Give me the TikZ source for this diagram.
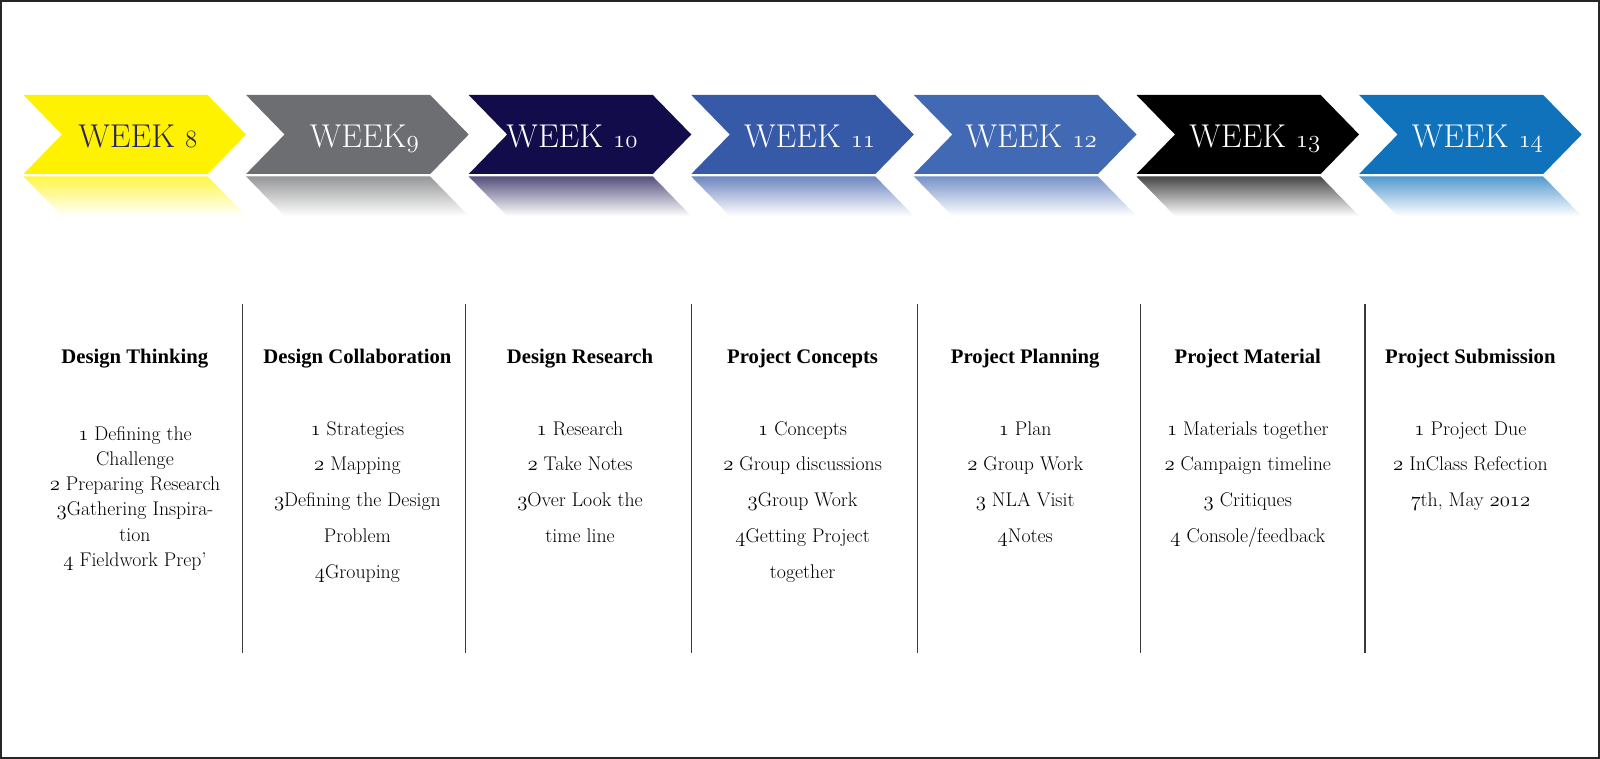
\documentclass[tikz,border=0pt]{standalone}
\usepackage{fontspec}
\newfontfamily\headfont{Liberation Serif}
\definecolor{cyel}{HTML}{FFF200}
\definecolor{cgray}{HTML}{6D6E71}
\definecolor{cnavy}{HTML}{120D4A}
\definecolor{cblueA}{HTML}{3659A8}
\definecolor{cblueB}{HTML}{4169B4}
\definecolor{cblk}{HTML}{000000}
\definecolor{cblueC}{HTML}{1172BC}
\definecolor{cnavytxt}{HTML}{26246B}
\definecolor{cline}{HTML}{3A3A3A}
\newcommand\os[1]{{\fontencoding{OML}\fontfamily{cmm}\fontseries{m}\fontshape{it}\selectfont #1}}
\tikzset{
  weektxt/.style={anchor=base, inner sep=0pt, font=\fontsize{33}{38}\selectfont},
  headtxt/.style={anchor=base, inner sep=0pt, font=\headfont\bfseries\fontsize{20.7}{24}\selectfont},
  bodytxt/.style={anchor=base, inner sep=0pt, font=\fontsize{19.8}{23}\selectfont},
  sepline/.style={draw=cline, line width=1.5pt},
  frameline/.style={draw=black!85, line width=1.6pt}
}
\begin{document}
\begin{tikzpicture}[x=1pt,y=-1pt]
\useasboundingbox (0,0) rectangle (1600,759);
\fill[white] (0,0) rectangle (1600,759);
\draw[frameline] (1,1) rectangle (1599,758);
% chevrons
\foreach \i/\col/\txtcol/\lab/\dx in {
  0/cyel/cnavytxt/{WEEK \os{8}}/3,
  1/cgray/white/{WEEK\os{9}}/7,
  2/cnavy/white/{WEEK \os{10}}/-8,
  3/cblueA/white/{WEEK \os{11}}/7,
  4/cblueB/white/{WEEK \os{12}}/6,
  5/cblk/white/{WEEK \os{13}}/7,
  6/cblueC/white/{WEEK \os{14}}/7}{
  \pgfmathsetmacro\xa{23.5+222.6*\i}
  \fill[\col] (\xa,95) -- ++(184.1,0) -- ++(38.5,39.5) -- ++(-38.5,39.5)
     -- ++(-184.1,0) -- ++(38.5,-39.5) -- cycle;
  \shade[top color=\col!72!white, bottom color=white] (\xa,176.5) -- ++(184.1,0)
     -- ++(38.5,39.5) -- ++(-184.1,0) -- cycle;
  \node[weektxt, text=\txtcol] (wk\i) at (\xa+111.3+\dx,147.5) {\lab};
}
% separators
\foreach \sx in {242.7,465.7,691.7,917.7,1140.3,1365}{
  \draw[sepline] (\sx,304) -- (\sx,653);
}
% headings
\foreach \i/\t in {0/Design Thinking,1/Design Collaboration,2/Design Research,
  3/Project Concepts,4/Project Planning,5/Project Material,6/Project Submission}{
  \node[headtxt] (hd\i) at (134.8+222.6*\i,363) {\t};
}
% column 1
\foreach \t [count=\k] in {\os{1} Defining the,Challenge,\os{2} Preparing Research,
  \os{3}Gathering Inspira-,tion,\os{4} Fieldwork Prep’}{
  \node[bodytxt] (ca\k) at (135,440+25.3*\k-25.3) {\t};
}
% column 2
\foreach \t [count=\k] in {\os{1} Strategies,\os{2} Mapping,\os{3}Defining the Design,
  Problem,\os{4}Grouping}{
  \node[bodytxt] (cb\k) at (357.4,435+35.8*\k-35.8) {\t};
}
% column 3
\foreach \t [count=\k] in {\os{1} Research,\os{2} Take Notes,\os{3}Over Look the,time line}{
  \node[bodytxt] (cc\k) at (580,435+35.8*\k-35.8) {\t};
}
% column 4
\foreach \t [count=\k] in {\os{1} Concepts,\os{2} Group discussions,\os{3}Group Work,
  \os{4}Getting Project,together}{
  \node[bodytxt] (cd\k) at (802.6,435+35.8*\k-35.8) {\t};
}
% column 5
\foreach \t [count=\k] in {\os{1} Plan,\os{2} Group Work,\os{3} NLA Visit,\os{4}Notes}{
  \node[bodytxt] (ce\k) at (1025.2,435+35.8*\k-35.8) {\t};
}
% column 6
\foreach \t [count=\k] in {\os{1} Materials together,\os{2} Campaign timeline,
  \os{3} Critiques,\os{4} Console/feedback}{
  \node[bodytxt] (cf\k) at (1247.8,435+35.8*\k-35.8) {\t};
}
% column 7
\foreach \t [count=\k] in {\os{1} Project Due,\os{2} InClass Refection,{\os{7}th, May \os{2012}}}{
  \node[bodytxt] (cg\k) at (1470.4,435+35.8*\k-35.8) {\t};
}
\end{tikzpicture}
\end{document}
